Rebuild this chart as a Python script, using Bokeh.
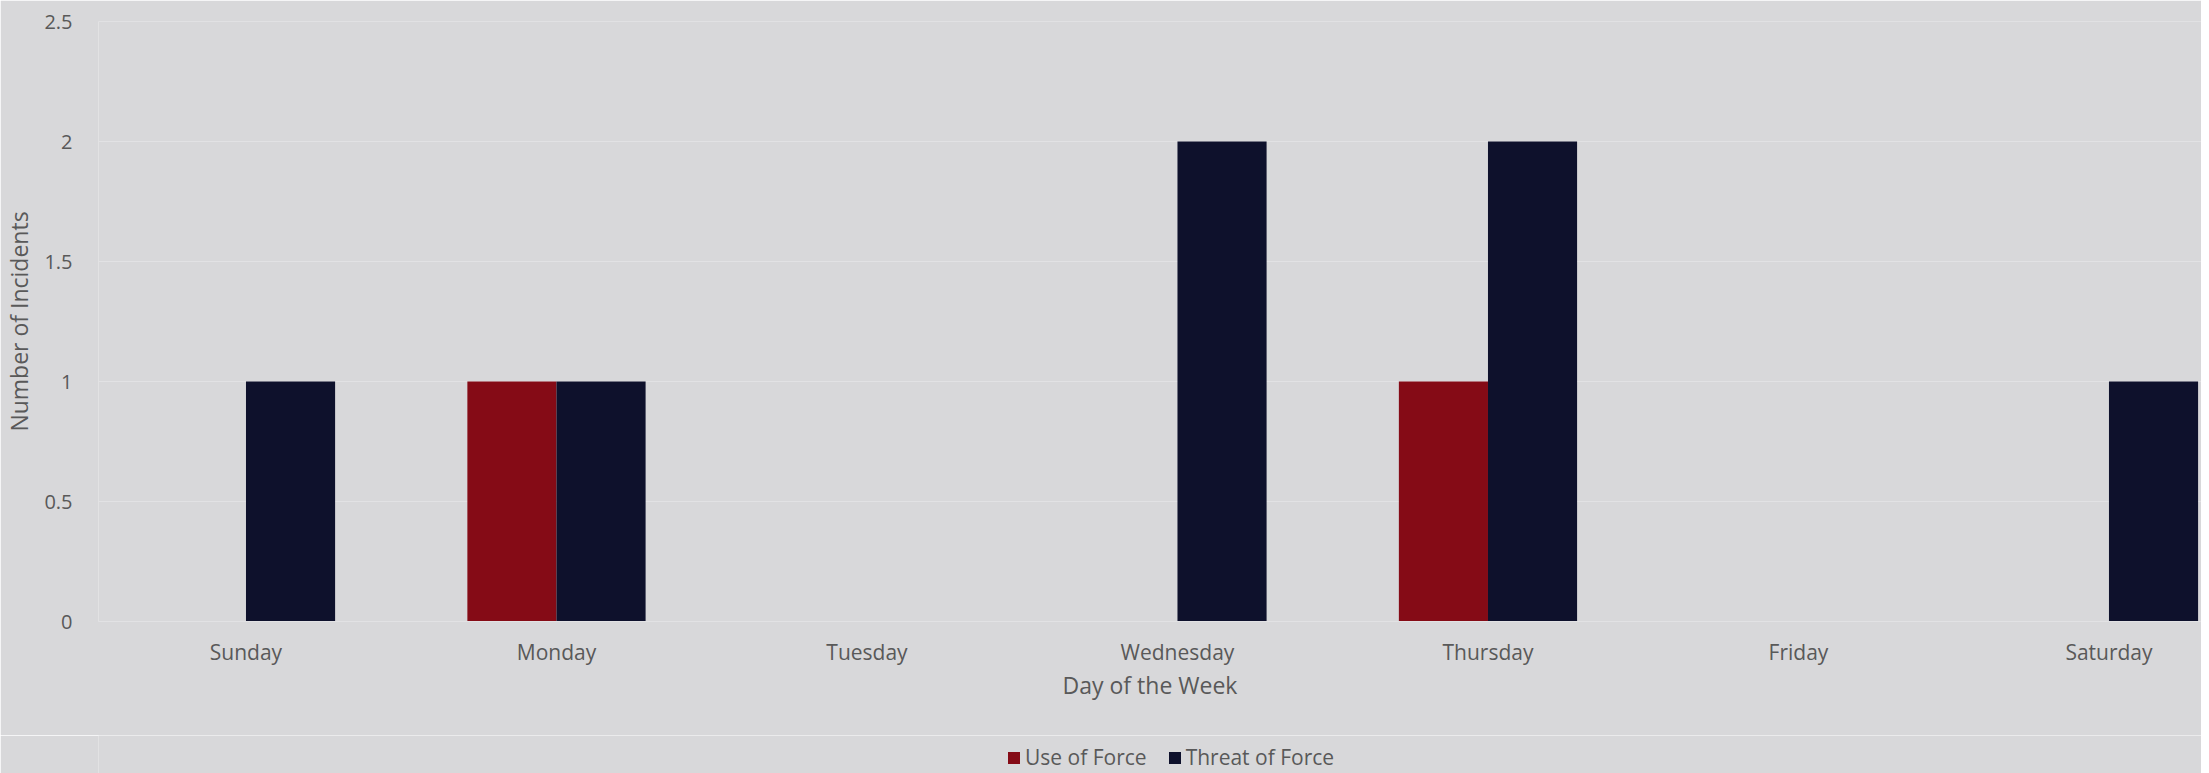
from bokeh.plotting import figure
from bokeh.layouts import column
from bokeh.models import ColumnDataSource, Range1d, FixedTicker, Legend, LegendItem
from bokeh.transform import dodge
from bokeh.embed import file_html
from bokeh.resources import INLINE

days = ["Sunday", "Monday", "Tuesday", "Wednesday", "Thursday", "Friday", "Saturday"]
use_of_force = [0, 1, 0, 0, 1, 0, 0]
threat_of_force = [1, 1, 0, 2, 2, 0, 1]
y_ticks = [0, 0.5, 1, 1.5, 2, 2.5]
y_tick_labels = ["0", "0.5", "1", "1.5", "2", "2.5"]
series_names = ["Use of Force", "Threat of Force"]

RED = "#850b16"
NAVY = "#0e112c"
BG = "#d8d8da"
TXT = "#595959"
FONT = "Open Sans"

src = ColumnDataSource(dict(x=list(range(len(days))), use=use_of_force, threat=threat_of_force))

p = figure(width=2201, height=735, output_backend="svg", toolbar_location=None,
           x_range=Range1d(-0.475, 6.298), y_range=Range1d(0, 2.5),
           min_border_left=83, min_border_right=0, min_border_top=21, min_border_bottom=114)
p.background_fill_color = BG
p.border_fill_color = BG
p.outline_line_color = None

bw = 0.287
r1 = p.vbar(x=dodge("x", -bw / 2, range=p.x_range), top="use", width=bw, source=src,
            fill_color=RED, line_color=None)
r2 = p.vbar(x=dodge("x", bw / 2, range=p.x_range), top="threat", width=bw, source=src,
            fill_color=NAVY, line_color=None)

p.xgrid.grid_line_color = None
p.ygrid.grid_line_color = "#e2e2e4"
p.ygrid.grid_line_width = 1
p.ygrid.ticker = FixedTicker(ticks=y_ticks)

p.yaxis.ticker = FixedTicker(ticks=y_ticks)
p.yaxis.major_label_overrides = {t: l for t, l in zip(y_ticks, y_tick_labels)}
p.xaxis.ticker = FixedTicker(ticks=list(range(len(days))))
p.xaxis.major_label_overrides = {i: d for i, d in enumerate(days)}

for ax in (p.xaxis[0], p.yaxis[0]):
    ax.major_tick_line_color = None
    ax.minor_tick_line_color = None
    ax.major_label_text_font = FONT
    ax.major_label_text_font_size = "20px"
    ax.major_label_text_color = TXT
    ax.axis_label_text_font = FONT
    ax.axis_label_text_font_size = "23px"
    ax.axis_label_text_color = TXT
    ax.axis_label_text_font_style = "normal"

p.xaxis.major_label_text_font_size = "21px"
p.yaxis.axis_line_color = None
p.xaxis.axis_line_color = "#e2e2e4"
p.yaxis.major_label_standoff = 20
p.xaxis.major_label_standoff = 10
p.yaxis.axis_label = "Number of Incidents"
p.xaxis.axis_label = "Day of the Week"
p.yaxis.axis_label_standoff = 6
p.xaxis.axis_label_standoff = 0

# legend strip
lg = figure(width=2201, height=38, output_backend="svg", toolbar_location=None,
            x_range=Range1d(0, 1), y_range=Range1d(0, 1),
            x_axis_location=None, y_axis_location=None,
            min_border_left=0, min_border_right=0, min_border_top=0, min_border_bottom=0)
lg.background_fill_color = BG
lg.border_fill_color = BG
lg.outline_line_color = None
lg.grid.grid_line_color = None
lsrc = ColumnDataSource(dict(x=[-5], top=[-5]))
l1 = lg.vbar(x="x", top="top", width=0.1, source=lsrc, fill_color=RED, line_color=None)
l2 = lg.vbar(x="x", top="top", width=0.1, source=lsrc, fill_color=NAVY, line_color=None)

legend = Legend(items=[LegendItem(label=series_names[0], renderers=[l1]),
                       LegendItem(label=series_names[1], renderers=[l2])],
                orientation="horizontal", location=(908, 2),
                label_text_font=FONT, label_text_font_size="21px", label_text_color=TXT,
                background_fill_alpha=0, border_line_color=None,
                glyph_width=15, glyph_height=15, label_standoff=4, spacing=20,
                margin=0, padding=0)
lg.add_layout(legend, "center")

layout = column(p, lg, spacing=0)
open("out.html", "w").write(file_html(layout, INLINE))
